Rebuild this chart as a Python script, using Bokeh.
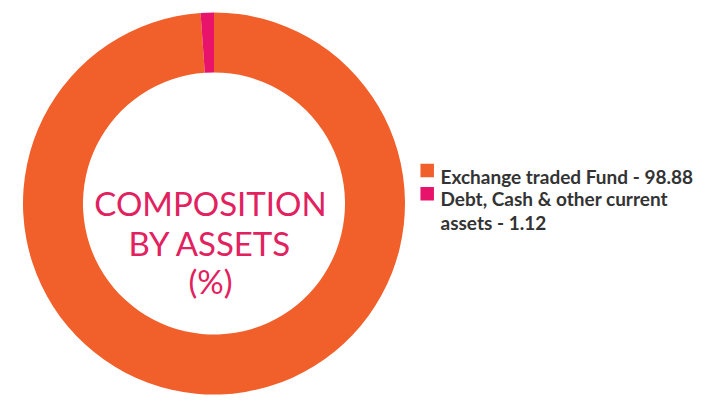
import math
from bokeh.plotting import figure
from bokeh.models import ColumnDataSource, Range1d
from bokeh.core.properties import value
from bokeh.embed import file_html
from bokeh.resources import INLINE

# ---- data ----
categories = ["Exchange traded Fund", "Debt, Cash & other current assets"]
values = [98.88, 1.12]
colors = ["#F15F2B", "#E8146B"]
legend_lines = [["Exchange traded Fund - 98.88"], ["Debt, Cash & other current", "assets - 1.12"]]
center_lines = ["COMPOSITION", "BY ASSETS", "(%)"]

W, H = 697, 401
p = figure(width=W, height=H, output_backend="svg", toolbar_location=None,
           x_range=Range1d(0, W), y_range=Range1d(0, H), min_border=0)
p.axis.visible = False
p.grid.visible = False
p.outline_line_color = None
p.background_fill_color = "white"

cx, cy = 213.5, 198
r_out, r_in = 191, 131

total = sum(values)
starts, ends = [], []
acc = 0.0
for v in values:
    starts.append(math.pi / 2 - acc / total * 2 * math.pi)
    acc += v
    ends.append(math.pi / 2 - acc / total * 2 * math.pi)

src = ColumnDataSource(dict(start=starts, end=ends, color=colors, cat=categories))
p.annular_wedge(x=cx, y=cy, inner_radius=r_in, outer_radius=r_out,
                start_angle="start", end_angle="end", direction="clock",
                color="color", line_color=None, source=src)

# center text
center_y = [199, 159, 121]
for t, yy in zip(center_lines, center_y):
    p.text(x=[210], y=[yy], text=[t], text_font=value("Lato"), text_font_size="33px",
           text_color="#E2215F", text_align="center", text_baseline="alphabetic")

# legend
sq_y = [231, 207.7]
text_y = [[225], [202.7, 179.3]]
for i in range(len(categories)):
    p.rect(x=[426.7], y=[sq_y[i]], width=13.5, height=13.5, color=colors[i], line_color=None)
    for line, yy in zip(legend_lines[i], text_y[i]):
        p.text(x=[440], y=[yy], text=[line], text_font=value("Lato"), text_font_size="19px",
               text_font_style="bold", text_color="#333333", text_align="left",
               text_baseline="alphabetic")

open("out.html", "w").write(file_html(p, INLINE))
